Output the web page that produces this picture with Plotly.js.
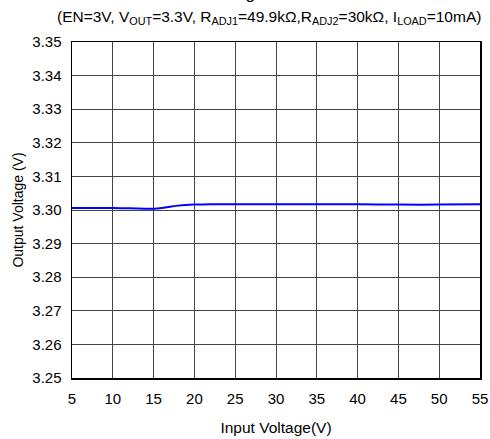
<!DOCTYPE html>
<html><head><meta charset="utf-8">
<script src="https://cdn.plot.ly/plotly-3.0.1.min.js"></script>
<style>html,body{margin:0;padding:0;background:#fff;}</style>
</head><body>
<div id="chart" style="width:490px;height:439px;"></div>
<script>
const inputVoltage = [5, 8, 10, 12, 14, 15, 16, 17, 18, 19, 20, 22, 25, 30, 35, 40, 45, 50, 55];
const outputVoltage = [3.3006, 3.3006, 3.3006, 3.3005, 3.3004, 3.3004, 3.3006, 3.3010, 3.3013, 3.3015, 3.3016, 3.3017, 3.3017, 3.3017, 3.3017, 3.3017, 3.3016, 3.3016, 3.3017];
const xTicks = [5, 10, 15, 20, 25, 30, 35, 40, 45, 50, 55];
const yTicks = [3.25, 3.26, 3.27, 3.28, 3.29, 3.30, 3.31, 3.32, 3.33, 3.34, 3.35];
const titleText = 'Line Regulation';
const subtitleText = '(EN=3V, V<sub>OUT</sub>=3.3V, R<sub>ADJ1</sub>=49.9kΩ,R<sub>ADJ2</sub>=30kΩ, I<sub>LOAD</sub>=10mA)';

const font = {family: 'Arial, "Liberation Sans", sans-serif', color: '#000'};
const f = s => Object.assign({size: s}, font);

Plotly.newPlot('chart', [{
  x: inputVoltage, y: outputVoltage, type: 'scatter', mode: 'lines',
  line: {color: '#0000FF', width: 2, shape: 'spline', smoothing: 0.6},
  hoverinfo: 'skip'
}], {
  width: 490, height: 439,
  margin: {l: 72, r: 10, t: 42, b: 61},
  paper_bgcolor: '#fff', plot_bgcolor: '#fff',
  showlegend: false,
  font: f(14),
  xaxis: {
    range: [5, 55], tickvals: xTicks, ticktext: xTicks.map(String),
    showgrid: true, gridcolor: '#444', gridwidth: 1,
    zeroline: false, showline: true, linecolor: '#000', linewidth: 1.5, mirror: true,
    ticks: '', tickfont: f(15), ticklabelstandoff: 6, ticklabeloverflow: 'allow',
    title: {text: 'Input Voltage(V)', font: f(15.5), standoff: 16}
  },
  yaxis: {
    range: [3.25, 3.35], tickvals: yTicks, ticktext: yTicks.map(v => v.toFixed(2)),
    showgrid: true, gridcolor: '#444', gridwidth: 1,
    zeroline: false, showline: true, linecolor: '#000', linewidth: 1.5, mirror: true,
    ticks: '', tickfont: f(15), ticklabelstandoff: 6, ticklabeloverflow: 'allow',
    title: {text: 'Output Voltage (V)', font: f(14), standoff: 5}
  },
  annotations: [
    {text: subtitleText, xref: 'paper', yref: 'paper', x: 0.484, y: 1, yshift: 13,
     xanchor: 'center', yanchor: 'bottom', showarrow: false, font: f(15.5)},
    {text: titleText, xref: 'paper', yref: 'paper', x: 0.427, y: 1, yshift: 37,
     xanchor: 'center', yanchor: 'bottom', showarrow: false, font: f(17)}
  ]
}, {displayModeBar: false, staticPlot: true});
</script>
</body></html>
